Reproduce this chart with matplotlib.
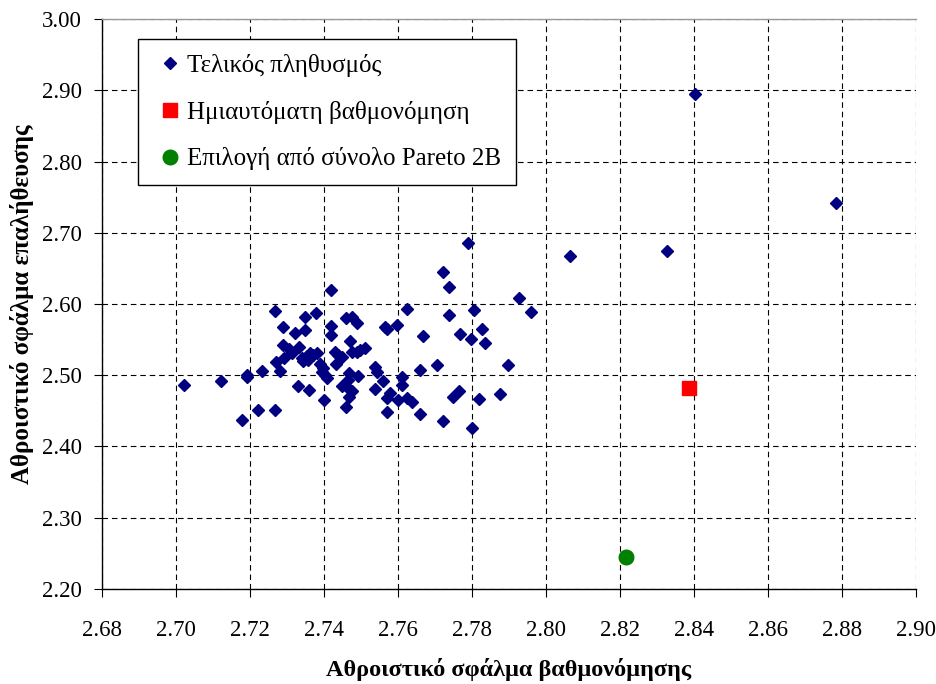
import matplotlib
matplotlib.use("Agg")
import matplotlib.pyplot as plt

plt.rcParams['font.family'] = ['Liberation Serif', 'DejaVu Serif']

# Final population: (calibration error, validation error)
pop_x = [2.7022, 2.7122, 2.7178, 2.7191, 2.7193, 2.7222, 2.7232, 2.7268, 2.7268, 2.7270,
         2.7280, 2.7290, 2.7292, 2.7290, 2.7304, 2.7313, 2.7322, 2.7333, 2.7330, 2.7340,
         2.7344, 2.7349, 2.7349, 2.7353, 2.7357, 2.7360, 2.7362, 2.7371, 2.7378, 2.7380,
         2.7389, 2.7394, 2.7398, 2.7400, 2.7403, 2.7407, 2.7420, 2.7420, 2.7420, 2.7430,
         2.7432, 2.7439, 2.7448, 2.7448, 2.7459, 2.7459, 2.7463, 2.7466, 2.7468, 2.7468,
         2.7471, 2.7475, 2.7475, 2.7475, 2.7488, 2.7488, 2.7493, 2.7497, 2.7510, 2.7538,
         2.7542, 2.7538, 2.7560, 2.7565, 2.7570, 2.7570, 2.7570, 2.7578, 2.7598, 2.7601,
         2.7610, 2.7610, 2.7623, 2.7623, 2.7637, 2.7660, 2.7660, 2.7668, 2.7706, 2.7721,
         2.7721, 2.7738, 2.7738, 2.7748, 2.7766, 2.7768, 2.7790, 2.7798, 2.7799, 2.7806,
         2.7820, 2.7828, 2.7836, 2.7876, 2.7898, 2.7928, 2.7959, 2.8065, 2.8327, 2.8403,
         2.8784]
pop_y = [2.4868, 2.4920, 2.4370, 2.5000, 2.4975, 2.4510, 2.5060, 2.4510, 2.5906, 2.5180,
         2.5060, 2.5680, 2.5240, 2.5425, 2.5364, 2.5317, 2.5600, 2.5400, 2.4850, 2.5240,
         2.5200, 2.5820, 2.5635, 2.5270, 2.5215, 2.4800, 2.5310, 2.5285, 2.5870, 2.5310,
         2.5158, 2.5050, 2.5098, 2.4654, 2.5000, 2.4958, 2.6200, 2.5690, 2.5565, 2.5330,
         2.5154, 2.5285, 2.5252, 2.4850, 2.5800, 2.4560, 2.4840, 2.4934, 2.5028, 2.4700,
         2.5480, 2.5820, 2.5330, 2.4784, 2.5738, 2.5330, 2.4990, 2.5355, 2.5380, 2.5120,
         2.5050, 2.4810, 2.4920, 2.5680, 2.5645, 2.4677, 2.4490, 2.4747, 2.5705, 2.4654,
         2.4973, 2.4864, 2.4677, 2.5926, 2.4630, 2.5070, 2.4450, 2.5550, 2.5144, 2.4360,
         2.6450, 2.6240, 2.5840, 2.4690, 2.4780, 2.5575, 2.6850, 2.5510, 2.4265, 2.5916,
         2.4670, 2.5645, 2.5457, 2.4738, 2.5144, 2.6090, 2.5890, 2.6670, 2.6740, 2.8945,
         2.7417]

semi_x = [2.8386]
semi_y = [2.4820]

pareto_x = [2.8216]
pareto_y = [2.2450]

labels = ["Τελικός πληθυσμός", "Ημιαυτόματη βαθμονόμηση", "Επιλογή από σύνολο Pareto 2B"]
xticks = [2.68, 2.70, 2.72, 2.74, 2.76, 2.78, 2.80, 2.82, 2.84, 2.86, 2.88, 2.90]
yticks = [2.20, 2.30, 2.40, 2.50, 2.60, 2.70, 2.80, 2.90, 3.00]

fig = plt.figure(figsize=(9.37, 6.84), dpi=100)
ax = fig.add_axes([0.1089, 0.1389, 0.8687, 0.8333])

ax.plot(pop_x, pop_y, linestyle='none', marker='D', markersize=6.5,
        color='#000080', markeredgecolor='#000080', label=labels[0], zorder=3)
ax.plot(semi_x, semi_y, linestyle='none', marker='s', markersize=10,
        color='#ff0000', markeredgecolor='#ff0000', label=labels[1], zorder=3)
ax.plot(pareto_x, pareto_y, linestyle='none', marker='o', markersize=10.5,
        color='#008000', markeredgecolor='#008000', label=labels[2], zorder=3)

ax.set_xlim(2.68, 2.90)
ax.set_ylim(2.20, 3.00)
ax.set_xticks(xticks)
ax.set_yticks(yticks)
ax.set_xticklabels([f"{v:.2f}" for v in xticks])
ax.set_yticklabels([f"{v:.2f}" for v in yticks])

ax.grid(True, color='black', linestyle=(0, (5, 3.5)), linewidth=0.8)
ax.set_axisbelow(True)

for side in ('left', 'bottom'):
    ax.spines[side].set_color('black')
    ax.spines[side].set_linewidth(1.0)
ax.spines['top'].set_color('#999999')
ax.spines['top'].set_linewidth(1.0)
ax.spines['right'].set_visible(False)

ax.tick_params(axis='both', direction='out', length=5.8, width=0.8, labelsize=16.5, colors='black')
ax.tick_params(axis='x', pad=16.5)
ax.tick_params(axis='y', pad=8.5)

ax.set_xlabel("Αθροιστικό σφάλμα βαθμονόμησης", fontsize=17.5, fontweight='bold', labelpad=12)
ax.set_ylabel("Αθροιστικό σφάλμα επαλήθευσης", fontsize=18, fontweight='bold', labelpad=6)

leg = ax.legend(loc='upper left', bbox_to_anchor=(0.044, 0.965), borderaxespad=0,
                fontsize=18, frameon=True, fancybox=False, shadow=False,
                framealpha=1, edgecolor='black', labelspacing=0.95,
                handletextpad=0.0, handlelength=1.35, borderpad=0.6, markerscale=1.0)
leg.get_frame().set_linewidth(1.0)
leg.legend_handles[0].set_markersize(6)

fig.savefig("out.png", dpi=100)
